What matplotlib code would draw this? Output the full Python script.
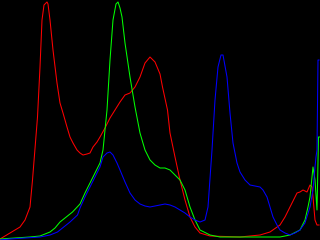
import matplotlib
matplotlib.use("Agg")
import matplotlib.pyplot as plt

# intensity levels (0-255) and histogram heights
red_levels = [0, 8, 16, 20, 24, 26, 30, 32, 33.6, 35.2, 37.6, 38.4, 40, 42.4, 45.6, 48, 50.4,
              53.6, 56, 58.4, 61.6, 64, 66.4, 69.6, 72, 74.4, 77.6, 80, 84, 88, 92, 96, 100,
              104, 108, 112, 116, 120, 124, 128, 130, 134, 136, 140, 144, 148, 152, 156, 160,
              168, 192, 208, 216, 224, 228, 232, 236, 237.6, 240, 242.4, 245.6, 248, 249.6,
              250.4, 252, 253.6, 255.2]
red_counts = [1, 7, 13, 20, 33, 60, 123, 173, 220, 235, 238, 236, 220, 190, 157, 137, 127, 113,
              103, 97, 90, 87, 85, 86, 87, 93, 98, 103, 112, 122, 130, 138, 145, 147, 153, 163,
              177, 183, 178, 166, 153, 130, 107, 83, 60, 40, 23, 13, 7, 4, 3, 5, 8, 15, 23, 33,
              43, 47, 48, 50, 48, 55, 53, 43, 20, 15, 15]

green_levels = [0, 24, 32, 40, 44, 48, 54, 58, 64, 68, 72, 76, 80, 82.4, 85.6, 88, 90.4, 92.8,
                94.4, 96, 97.6, 100, 104, 108, 112, 116, 120, 124, 128, 132, 136, 140, 144, 148,
                152, 156, 160, 168, 176, 224, 232, 240, 244, 246.4, 248, 250.4, 252, 253.6,
                254.8, 255.6]
green_counts = [1, 3, 4, 8, 12, 18, 24, 28, 36, 47, 57, 67, 77, 90, 130, 180, 220, 236, 238, 232,
                223, 197, 163, 133, 107, 90, 80, 75, 72, 72, 70, 65, 60, 50, 33, 20, 10, 5, 3, 3,
                5, 10, 20, 33, 43, 73, 60, 30, 103, 103]

blue_levels = [0, 8, 32, 40, 46, 50, 56, 62, 64, 68, 72, 76, 80, 82.4, 85.6, 88, 90.4, 93.6, 96,
               100, 104, 108, 112, 116, 120, 128, 132, 136, 140, 144, 148, 152, 156, 160, 164,
               166.4, 169.6, 172, 174.4, 176.8, 178.4, 181.6, 184, 186.4, 189.6, 192, 196, 200,
               204, 208, 210.4, 213.6, 216, 218.4, 221.6, 224, 228, 232, 236, 240, 244, 248,
               250.4, 252, 252.8, 253.6, 254.4, 255.2]
blue_counts = [0, 1, 3, 5, 8, 12, 18, 25, 32, 43, 53, 63, 73, 83, 87, 88, 85, 77, 70, 58, 47, 40,
               36, 34, 33, 35, 36, 35, 33, 30, 27, 23, 20, 18, 20, 33, 90, 140, 173, 185, 185,
               163, 127, 97, 77, 68, 60, 55, 54, 53, 50, 43, 33, 23, 15, 10, 7, 5, 7, 10, 17, 33,
               50, 73, 83, 90, 180, 180]

fig = plt.figure(figsize=(3.2, 2.4), dpi=100, facecolor="black")
ax = fig.add_axes([0, 0, 1, 1])
ax.set_facecolor("black")

ax.plot(red_levels, red_counts, color="#ff0000", lw=0.75)
ax.plot(green_levels, green_counts, color="#00ff00", lw=0.75)
ax.plot(blue_levels, blue_counts, color="#0000ff", lw=0.75)

ax.set_xlim(0, 256)
ax.set_ylim(0, 240)
ax.axis("off")

fig.savefig("out.png", dpi=100, facecolor="black")
plt.close(fig)
